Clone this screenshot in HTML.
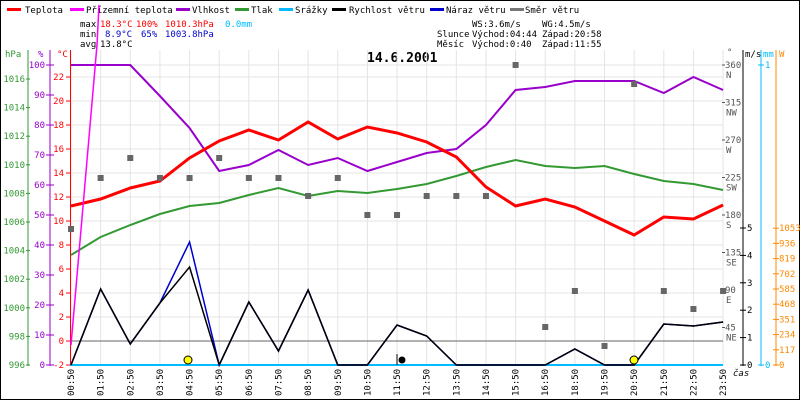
<!DOCTYPE html>
<html><head><meta charset="utf-8"><style>
html,body{margin:0;padding:0;background:#fff}
svg{display:block}
text{font-family:"DejaVu Sans Mono","Liberation Mono",monospace;font-size:9px}
</style></head><body>
<svg width="800" height="400" xmlns="http://www.w3.org/2000/svg">
<rect x="0.5" y="0.5" width="799" height="399" fill="#fff" stroke="#000"/>
<g>
<rect x="7" y="8" width="14" height="3" fill="#f00"/><text x="25" y="13">Teplota</text>
<rect x="70" y="8" width="14" height="3" fill="#f0f"/><text x="86" y="13">Přízemní teplota</text>
<rect x="176" y="8" width="14" height="3" fill="#90c"/><text x="192" y="13">Vlhkost</text>
<rect x="235" y="8" width="14" height="3" fill="#393"/><text x="251" y="13">Tlak</text>
<rect x="279" y="8" width="14" height="3" fill="#0bf"/><text x="295" y="13">Srážky</text>
<rect x="332" y="8" width="14" height="3" fill="#000"/><text x="349" y="13">Rychlost větru</text>
<rect x="430" y="8" width="14" height="3" fill="#00c"/><text x="446" y="13">Náraz větru</text>
<rect x="510" y="8" width="14" height="3" fill="#777"/><text x="525" y="13">Směr větru</text>
</g>
<text x="80" y="27">max</text><text x="100" y="27" fill="#f00">18.3°C</text><text x="136" y="27" fill="#f00">100%</text><text x="165" y="27" fill="#f00">1010.3hPa</text><text x="225" y="27" fill="#0bf">0.0mm</text>
<text x="80" y="37">min</text><text x="105" y="37" fill="#00c">8.9°C</text><text x="141" y="37" fill="#00c">65%</text><text x="165" y="37" fill="#00c">1003.8hPa</text>
<text x="80" y="47">avg</text><text x="100" y="47">13.8°C</text>
<text x="472" y="27">WS:3.6m/s</text><text x="542" y="27">WG:4.5m/s</text>
<text x="437" y="37">Slunce</text><text x="472" y="37">Východ:04:44</text><text x="542" y="37">Západ:20:58</text>
<text x="437" y="47">Měsíc</text><text x="472" y="47">Východ:0:40</text><text x="542" y="47">Západ:11:55</text>
<text x="367" y="62" style="font-size:13px;font-weight:bold">14.6.2001</text>
<g stroke="#e4e4e4" stroke-width="1" id="grid"></g>
<g>
<line x1="28" y1="50" x2="28" y2="366" stroke="#393"/>
<line x1="50" y1="50" x2="50" y2="366" stroke="#90c"/>
<line x1="70.5" y1="50" x2="70.5" y2="366" stroke="#f00"/>
<line x1="743" y1="50" x2="743" y2="366" stroke="#000"/>
<line x1="761" y1="50" x2="761" y2="366" stroke="#0bf"/>
<line x1="776" y1="50" x2="776" y2="366" stroke="#f80"/>
<text x="5" y="57" fill="#393">hPa</text><text x="38" y="57" fill="#90c">%</text><text x="57" y="57" fill="#f00">°C</text>
<text x="727" y="55" fill="#555">°</text><text x="745" y="57">m/s</text><text x="763" y="57" fill="#0bf">mm</text><text x="779" y="57" fill="#f80">W</text>
<text x="733" y="376" font-style="italic">čas</text>
</g>
<g id="dyn"></g>
</svg>
<script>
const NS="http://www.w3.org/2000/svg";
const g=document.getElementById('dyn'),gr=document.getElementById('grid');
function el(t,a,p){const e=document.createElementNS(NS,t);for(const k in a)e.setAttribute(k,a[k]);if(a.text){e.textContent=a.text;e.removeAttribute('text')}(p||g).appendChild(e);return e}
const labels=["00:50","01:50","02:50","03:50","04:50","05:50","06:50","07:50","08:50","09:50","10:50","11:50","12:50","13:50","14:50","15:50","16:50","18:50","19:50","20:50","21:50","22:50","23:50"];
const X=i=>71+i*29.64;
for(let i=0;i<23;i++){el('line',{x1:X(i),y1:50,x2:X(i),y2:365},gr);
 el('text',{x:0,y:0,transform:`translate(${X(i)+3},396) rotate(-90)`,text:labels[i]});}
for(let k=0;k<13;k++){const y=77+24*k;el('line',{x1:70,y1:y,x2:723,y2:y},gr);}
el('line',{x1:70,y1:65,x2:723,y2:65},gr);
for(let k=0;k<=12;k++){const y=365-24*k;el('line',{x1:66,y1:y,x2:70,y2:y,stroke:'#f00'});el('text',{x:64,y:y+3,'text-anchor':'end',fill:'#f00',text:String(-2+2*k)});}
for(let k=0;k<=10;k++){const y=365-30*k;el('line',{x1:46,y1:y,x2:54,y2:y,stroke:'#90c'});el('text',{x:45,y:y+3,'text-anchor':'end',fill:'#90c',text:String(10*k)});}
for(let k=0;k<=10;k++){const y=365-28.6*k;el('line',{x1:26,y1:y,x2:30,y2:y,stroke:'#393'});el('text',{x:25,y:y+3,'text-anchor':'end',fill:'#393',text:String(996+2*k)});}
const dn=["","NE","E","SE","S","SW","W","NW","N"];
for(let k=1;k<=8;k++){const y=365-37.5*k;el('text',{x:725,y:y+3,fill:'#555',text:String(45*k)});el('text',{x:726,y:y+13,fill:'#555',text:dn[k]});el('line',{x1:722,y1:y,x2:725,y2:y,stroke:'#555'});}
for(let k=0;k<=5;k++){const y=365-27.4*k;el('line',{x1:740,y1:y,x2:746,y2:y,stroke:'#000'});el('text',{x:747,y:y+3,text:String(k)});}
el('line',{x1:758,y1:365,x2:764,y2:365,stroke:'#0bf'});el('text',{x:765,y:368,fill:'#0bf',text:'0'});
el('line',{x1:758,y1:65,x2:764,y2:65,stroke:'#0bf'});el('text',{x:765,y:68,fill:'#0bf',text:'1'});
const wl=[0,117,234,351,468,585,702,819,936,1053];
for(let k=0;k<=9;k++){const y=365-15.2*k;el('line',{x1:773,y1:y,x2:779,y2:y,stroke:'#f80'});el('text',{x:779,y:y+3,fill:'#f80',text:String(wl[k])});}
el('line',{x1:70,y1:341,x2:723,y2:341,stroke:'#666'});
el('line',{x1:70,y1:365,x2:723,y2:365,stroke:'#0bf',"stroke-width":2});
function poly(ys,c,w){el('polyline',{points:ys.map((y,i)=>X(i)+','+y).join(' '),fill:'none',stroke:c,'stroke-width':w});}
poly([365,289,344,303,242,365,302,351,290,365,365,325,336,365,365,365,365,349,365,365,324,326,322],'#00c',1.5);
poly([365,289,344,303,267,365,302,351,290,365,365,325,336,365,365,365,365,349,365,365,324,326,322],'#000',1.5);
poly([255,237,225,214,206,203,195,188,196,191,193,189,184,176,167,160,166,168,166,174,181,184,190],'#393',2);
poly([65,65,65,96,128,171,165,150,165,158,171,162,153,149,125,90,87,81,81,81,93,77,90],'#90c',2);
poly([206,199,188,181,158,141,130,140,122,139,127,133,142,157,187,206,199,207,221,235,217,219,205],'#f00',3);
el('line',{x1:71,y1:345,x2:97,y2:45,stroke:'#f0f','stroke-width':1.5});
el('line',{x1:97,y1:45,x2:99,y2:5,stroke:'#f0f','stroke-width':1.5});
const d=[229,178,158,178,178,158,178,178,196,178,215,215,196,196,196,65,327,291,346,84,291,309,291];
d.forEach((y,i)=>el('rect',{x:X(i)-3,y:y-3,width:6,height:6,fill:'#666'}));
el('circle',{cx:188,cy:360,r:4,fill:'#ff0',stroke:'#000'});
el('circle',{cx:634,cy:360,r:4,fill:'#ff0',stroke:'#000'});
el('circle',{cx:402,cy:360,r:3.5,fill:'#000'});
el('line',{x1:397,y1:354,x2:397,y2:365,stroke:'#000'});
</script>
</body></html>
